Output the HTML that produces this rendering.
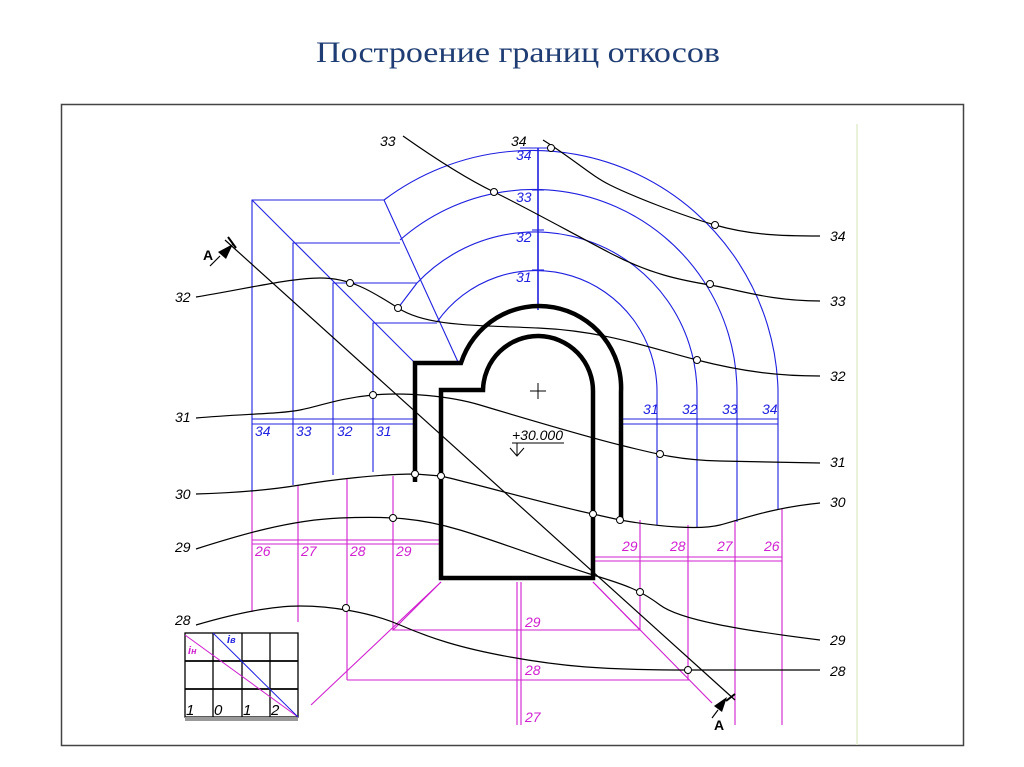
<!DOCTYPE html>
<html><head><meta charset="utf-8"><style>
html,body{margin:0;padding:0;background:#fff;}
svg{display:block;}
text{font-family:"Liberation Sans",sans-serif;font-style:italic;font-size:14px;}
</style></head><body>
<svg width="1024" height="767" viewBox="0 0 1024 767" xmlns="http://www.w3.org/2000/svg">
<rect width="1024" height="767" fill="#fff"/>
<text x="518" y="62" text-anchor="middle" textLength="404" lengthAdjust="spacingAndGlyphs" style="font-family:'Liberation Serif',serif;font-style:normal;font-size:30px;fill:#1f3d73">Построение границ откосов</text>
<rect x="61.5" y="104.5" width="902" height="641" fill="none" stroke="#444" stroke-width="1.5"/>
<line x1="857" y1="124" x2="857" y2="745" stroke="#e4edd0" stroke-width="1.5"/>

<g fill="none" stroke="#2020e0" stroke-width="1.1">
<path d="M384,200 A246,246 0 0 1 778,390 L778,510"/>
<path d="M400,240 A203,203 0 0 1 737,390 L737,522"/>
<path d="M417,283 A162,162 0 0 1 697,390 L697,528"/>
<path d="M437,322 A121,121 0 0 1 657,390 L657,525"/>
<line x1="384" y1="200" x2="458" y2="362"/>
<line x1="398" y1="308" x2="417" y2="283"/>
<line x1="538" y1="148" x2="538" y2="310" stroke-width="1.6"/>
<line x1="532" y1="190" x2="544" y2="190"/><line x1="532" y1="230" x2="544" y2="230"/><line x1="532" y1="270" x2="544" y2="270"/>
<line x1="520" y1="148" x2="556" y2="148"/>
<polyline points="384,200 252,200 252,492"/>
<polyline points="400,243 293,243 293,485"/>
<polyline points="417,283 333,283 333,475"/>
<polyline points="437,323 373,323 373,472"/>
<line x1="252" y1="200" x2="415" y2="363"/>
<line x1="252" y1="419" x2="415" y2="419"/><line x1="252" y1="424" x2="415" y2="424"/>
<line x1="620" y1="419" x2="778" y2="419"/><line x1="620" y1="424" x2="778" y2="424"/>
</g>
<g fill="#2020e0">
<text x="516" y="160">34</text><text x="516" y="202">33</text><text x="516" y="242">32</text><text x="516" y="282">31</text>
<text x="255" y="436">34</text><text x="296" y="436">33</text><text x="337" y="436">32</text><text x="376" y="436">31</text>
<text x="643" y="414">31</text><text x="682" y="414">32</text><text x="722" y="414">33</text><text x="762" y="414">34</text>
</g>

<g fill="none" stroke="#d020d0" stroke-width="1.1">
<line x1="252" y1="492" x2="252" y2="612"/><line x1="298" y1="485" x2="298" y2="622"/>
<line x1="347" y1="478" x2="347" y2="680"/><line x1="393" y1="476" x2="393" y2="630"/>
<line x1="252" y1="540" x2="441" y2="540"/><line x1="252" y1="544" x2="441" y2="544"/>
<polyline points="441,582 393,630 640,630 593,582"/>
<line x1="441" y1="582" x2="311" y2="705"/>
<line x1="347" y1="680" x2="690" y2="680"/>
<line x1="593" y1="582" x2="712" y2="703"/>
<line x1="517" y1="582" x2="517" y2="725"/><line x1="521" y1="582" x2="521" y2="725"/>
<line x1="640" y1="520" x2="640" y2="630"/><line x1="688" y1="525" x2="688" y2="680"/>
<line x1="735" y1="520" x2="735" y2="725"/><line x1="782" y1="508" x2="782" y2="725"/>
<line x1="593" y1="557" x2="782" y2="557"/><line x1="593" y1="561" x2="782" y2="561"/>
</g>
<g fill="#d020d0">
<text x="255" y="556">26</text><text x="301" y="556">27</text><text x="350" y="556">28</text><text x="396" y="556">29</text>
<text x="525" y="627">29</text><text x="525" y="675">28</text><text x="525" y="722">27</text>
<text x="622" y="551">29</text><text x="670" y="551">28</text><text x="717" y="551">27</text><text x="764" y="551">26</text>
</g>

<g fill="none" stroke="#000" stroke-width="4.5" stroke-linejoin="miter">
<path d="M415,482 L415,363 L461,363 A82,82 0 0 1 621,392 L621,520"/>
<path d="M441,578 L441,390 L483,390 A55,55 0 0 1 593,392 L593,578 Z"/>
</g>
<g stroke="#000" stroke-width="1" fill="none">
<line x1="530" y1="391" x2="546" y2="391"/><line x1="538" y1="383" x2="538" y2="399"/>
<line x1="512" y1="443" x2="564" y2="443"/><line x1="517" y1="443" x2="517" y2="456"/>
<polyline points="510,448 517,456 524,448"/>
</g>
<text x="512" y="440" fill="#000" style="font-size:14px">+30.000</text>

<g fill="none" stroke="#000" stroke-width="1.2">
<path d="M543,140 C575,160 590,175 610,185 S680,215 715,225 S780,236 820,236"/>
<path d="M403,136 C430,155 465,178 494,192 S570,232 610,253 S680,280 710,285 S770,301 820,301"/>
<path d="M196,297 C240,290 290,278 320,278 S370,290 398,308 S470,325 538,328 S650,348 697,360 S780,376 820,376"/>
<path d="M196,418 C240,414 280,414 300,410 S340,398 373,395 S450,396 480,405 S580,435 620,445 S680,460 720,461 L820,463"/>
<path d="M196,494 C230,493 270,490 300,485 S380,474 415,474 L441,476 C480,485 550,505 593,514 L620,520 C660,527 700,530 720,525 S770,508 820,503"/>
<path d="M196,549 C240,535 290,520 340,518 S420,518 460,530 S560,565 593,575 S640,590 660,605 S740,630 820,640"/>
<path d="M196,625 C230,615 270,606 300,606 S370,612 400,625 S460,648 510,657 S600,670 688,670 L820,670"/>
<line x1="225" y1="240" x2="735" y2="700"/>
<line x1="228" y1="237" x2="236" y2="248" stroke-width="2"/>
<line x1="726" y1="701" x2="735" y2="694" stroke-width="2"/>
<line x1="210" y1="266" x2="220" y2="256"/>
<line x1="712" y1="718" x2="718" y2="710"/>
</g>
<polygon points="233,244 218,252 226,259" fill="#000"/>
<polygon points="727,697 714,706 722,712" fill="#000"/>
<g fill="#fff" stroke="#000" stroke-width="1">
<circle cx="551" cy="148" r="3.5"/><circle cx="494" cy="192" r="3.5"/><circle cx="715" cy="225" r="3.5"/>
<circle cx="710" cy="284" r="3.5"/><circle cx="350" cy="283" r="3.5"/><circle cx="398" cy="308" r="3.5"/>
<circle cx="697" cy="360" r="3.5"/><circle cx="373" cy="395" r="3.5"/><circle cx="660" cy="454" r="3.5"/>
<circle cx="415" cy="474" r="3.5"/><circle cx="441" cy="476" r="3.5"/><circle cx="593" cy="514" r="3.5"/>
<circle cx="620" cy="520" r="3.5"/><circle cx="393" cy="518" r="3.5"/><circle cx="640" cy="592" r="3.5"/>
<circle cx="346" cy="608" r="3.5"/><circle cx="688" cy="670" r="3.5"/>
</g>
<g fill="#000">
<text x="380" y="146">33</text><text x="511" y="146">34</text>
<text x="830" y="241">34</text><text x="830" y="306">33</text><text x="830" y="381">32</text><text x="830" y="467">31</text><text x="830" y="507">30</text>
<text x="830" y="645">29</text><text x="830" y="676">28</text>
<text x="175" y="302">32</text><text x="175" y="422">31</text><text x="175" y="499">30</text><text x="175" y="552">29</text><text x="175" y="625">28</text>
<text x="203" y="260" style="font-style:normal;font-weight:bold">A</text>
<text x="714" y="730" style="font-style:normal;font-weight:bold">A</text>
</g>

<g fill="none" stroke="#000" stroke-width="1.3">
<rect x="185" y="633" width="113" height="84"/>
<line x1="213" y1="633" x2="213" y2="717"/><line x1="242" y1="633" x2="242" y2="717"/><line x1="270" y1="633" x2="270" y2="717"/>
<line x1="185" y1="661" x2="298" y2="661" stroke-width="1.8"/><line x1="185" y1="689" x2="298" y2="689" stroke-width="1.8"/>
</g>
<rect x="185" y="717" width="113" height="4" fill="#999"/>
<line x1="185" y1="635" x2="298" y2="717" stroke="#d020d0" stroke-width="1"/>
<line x1="213" y1="633" x2="298" y2="717" stroke="#2020e0" stroke-width="1"/>
<text x="227" y="643" fill="#2020e0" style="font-size:11px;font-weight:bold">i<tspan font-size="9">в</tspan></text>
<text x="188" y="654" fill="#d020d0" style="font-size:11px;font-weight:bold">i<tspan font-size="9">н</tspan></text>
<g fill="#000"><text x="186" y="715" style="font-size:15px">1</text><text x="214" y="715" style="font-size:15px">0</text><text x="243" y="715" style="font-size:15px">1</text><text x="271" y="715" style="font-size:15px">2</text></g>
</svg>
</body></html>
